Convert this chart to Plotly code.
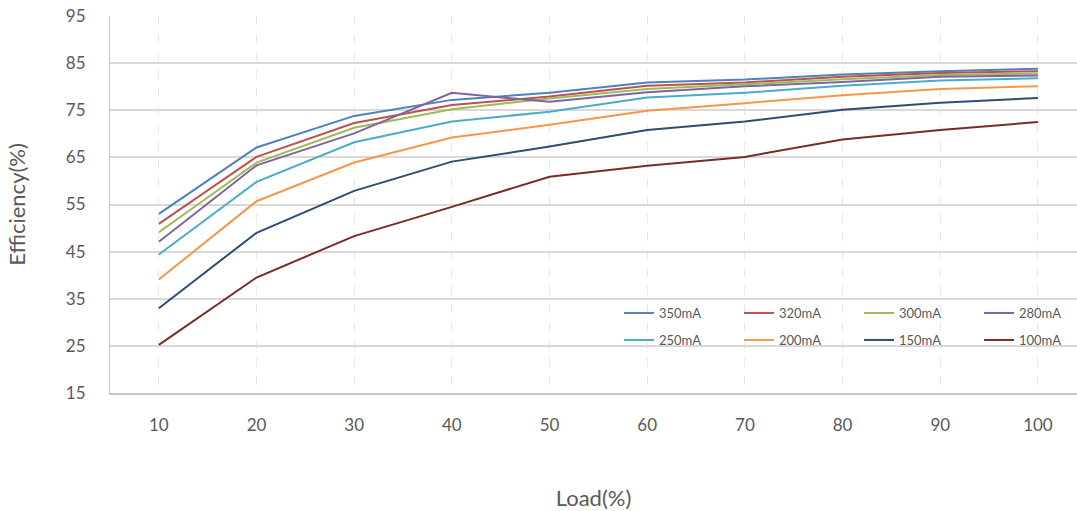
import plotly.graph_objects as go

load = [10, 20, 30, 40, 50, 60, 70, 80, 90, 100]
series_names = ["350mA", "320mA", "300mA", "280mA", "250mA", "200mA", "150mA", "100mA"]
eff_350 = [53.0, 67.1, 73.8, 77.2, 78.7, 80.9, 81.5, 82.6, 83.3, 83.8]
eff_320 = [50.9, 65.1, 72.3, 76.1, 77.9, 80.2, 80.9, 82.1, 82.9, 83.3]
eff_300 = [49.1, 63.9, 71.3, 75.2, 77.5, 79.5, 80.5, 81.6, 82.5, 82.8]
eff_280 = [47.1, 63.3, 70.1, 78.7, 76.8, 78.8, 80.1, 81.0, 82.1, 82.4]
eff_250 = [44.4, 59.8, 68.2, 72.6, 74.7, 77.7, 78.7, 80.2, 81.3, 81.8]
eff_200 = [39.1, 55.7, 63.9, 69.2, 71.9, 74.9, 76.5, 78.2, 79.5, 80.1]
eff_150 = [33.0, 49.0, 57.9, 64.1, 67.3, 70.8, 72.6, 75.1, 76.6, 77.6]
eff_100 = [25.2, 39.5, 48.3, 54.5, 60.9, 63.2, 65.1, 68.8, 70.8, 72.5]
y_ticks = [15, 25, 35, 45, 55, 65, 75, 85, 95]

all_series = [eff_350, eff_320, eff_300, eff_280, eff_250, eff_200, eff_150, eff_100]
colors = ["#4F81BD", "#C0504D", "#9BBB59", "#8064A2", "#4BACC6", "#F79646", "#2C4D75", "#772C2A"]

FONT = "Lato"
TXT = "#595959"

fig = go.Figure()
for i, (name, vals, col) in enumerate(zip(series_names, all_series, colors)):
    fig.add_trace(go.Scatter(
        x=load, y=vals, name=name, mode="lines",
        line=dict(color=col, width=2),
        legend="legend" if i < 4 else "legend2",
    ))

W, H = 1077, 511
ml, mr, mt, mb = 110, 0, 16, 118
pw = W - ml - mr
ph = H - mt - mb

def px_x(px):
    return (px - ml) / pw

def px_y(py):
    return (H - mb - py) / ph

leg_common = dict(
    orientation="h", xanchor="left", yanchor="middle",
    bgcolor="rgba(0,0,0,0)", borderwidth=0,
    font=dict(family=FONT, size=13, color=TXT),
    entrywidth=75, entrywidthmode="pixels",
    traceorder="normal",
)

fig.update_layout(
    width=W, height=H,
    margin=dict(l=ml, r=mr, t=mt, b=mb, pad=0, autoexpand=False),
    paper_bgcolor="white", plot_bgcolor="white",
    font=dict(family=FONT, color=TXT),
    showlegend=True,
    legend=dict(x=px_x(619), y=px_y(313), **leg_common),
    legend2=dict(x=px_x(619), y=px_y(340), **leg_common),
    xaxis=dict(
        range=[5, 104], tickvals=load, ticktext=[str(v) for v in load],
        showgrid=True, gridcolor="#e7e7e7", griddash="dash", gridwidth=1.3,
        showline=True, linecolor="#c8c8c8", linewidth=2,
        ticks="", ticklabelstandoff=16,
        tickfont=dict(family=FONT, size=17, color=TXT),
        zeroline=False,
        title=dict(text="Load(%)", font=dict(family=FONT, size=22, color=TXT), standoff=56),
    ),
    yaxis=dict(
        range=[15, 95], tickvals=y_ticks,
        showgrid=True, gridcolor="#d9d9d9", gridwidth=1.5,
        showline=True, linecolor="#c8c8c8", linewidth=1,
        ticks="", ticklabelstandoff=20,
        tickfont=dict(family=FONT, size=17, color=TXT),
        zeroline=False,
        title=dict(text="Efficiency(%)", font=dict(family=FONT, size=22, color=TXT), standoff=34),
    ),
)

fig.write_html("out.html")
